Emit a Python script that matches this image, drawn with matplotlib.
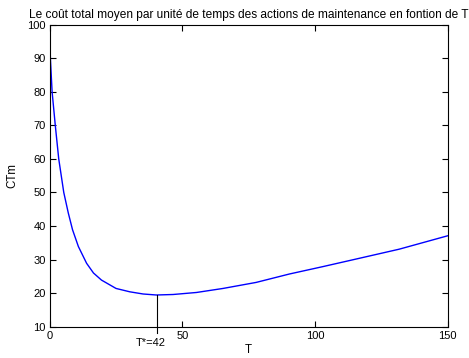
import matplotlib.pyplot as plt

plt.rcParams['font.family'] = ['Liberation Sans', 'DejaVu Sans']

# Courbe CTm(T)
T = [0, 0.25, 0.9, 2.1, 3.4, 5.3, 7.0, 8.6, 10.8, 13.9, 16.5, 19.5,
     25, 30.2, 35.2, 40.2, 46.5, 55.3, 65.3, 77.8, 90.3, 102.9, 112.9,
     131.7, 150]
CTm = [99, 90, 80, 70, 60, 50, 43.9, 38.9, 33.9, 28.9, 26.0, 23.9,
       21.4, 20.4, 19.75, 19.45, 19.6, 20.2, 21.4, 23.2, 25.7, 27.9, 29.7,
       33.1, 37.1]

t_line = 40.4       # position du trait vertical
ct_min = 19.45
label_opt = 'T*=42'

xticks = [0, 50, 100, 150]
yticks = list(range(10, 101, 10))

fig = plt.figure(figsize=(4.69, 3.58), dpi=100)
ax = fig.add_axes([0.106, 0.0874, 0.8486, 0.8436])

ax.plot(T, CTm, color='blue', linewidth=1.0)
ax.plot([t_line, t_line], [8.1, ct_min], color='black', linewidth=0.8, clip_on=False)
ax.text(t_line - 2.5, 5.0, label_opt, ha='center', va='center', fontsize=8)

ax.set_xlim(0, 150)
ax.set_ylim(10, 100)
ax.set_xticks(xticks)
ax.set_yticks(yticks)
ax.tick_params(direction='in', length=4, width=0.8, top=True, right=True,
               labelsize=8, pad=3)
for s in ax.spines.values():
    s.set_linewidth(0.8)

ax.set_title('Le coût total moyen par unité de temps des actions de maintenance en fontion de T',
             fontsize=8.6, pad=5)
ax.set_xlabel('T', fontsize=8.3, labelpad=2)
ax.set_ylabel('CTm', fontsize=8.3, labelpad=6)

plt.savefig('out.png', dpi=100)
